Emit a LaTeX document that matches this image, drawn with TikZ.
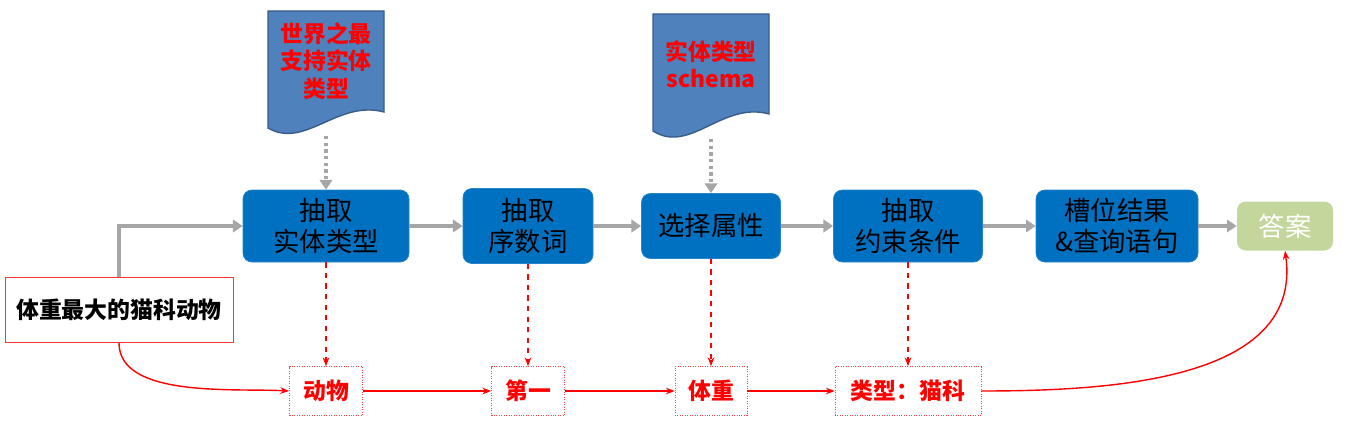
\documentclass[tikz,border=0pt]{standalone}
\usepackage{fontspec}
\setmainfont{Noto Sans CJK SC}
\usetikzlibrary{arrows.meta}

\definecolor{boxblue}{HTML}{0070C0}
\definecolor{docblue}{HTML}{4F81BD}
\definecolor{docedge}{HTML}{385D8A}
\definecolor{flowgray}{HTML}{A6A6A6}
\definecolor{ansgreen}{HTML}{C3D69B}

\tikzset{
  stepbox/.style={draw=boxblue!85!white, fill=boxblue, rounded corners=5pt, align=center,
    inner sep=0pt, font=\fontsize{15}{18}\selectfont},
  ansbox/.style={fill=ansgreen, rounded corners=5pt, text=white, minimum width=1.92cm,
    minimum height=0.98cm, font=\fontsize{15}{18}\selectfont},
  slotbox/.style={draw=red!75, densely dotted, text=red, minimum height=0.98cm,
    font=\bfseries\fontsize{13}{15}\selectfont},
  querybox/.style={draw=red!80, minimum width=4.56cm, minimum height=1.3cm,
    font=\bfseries\fontsize{13}{15}\selectfont},
  doctext/.style={text=red, align=center, font=\bfseries\fontsize{13}{15.5}\selectfont},
  docshape/.style={draw=docedge, fill=docblue, thick},
  flow/.style={draw=flowgray, line width=1.9pt, -{Triangle[length=5.5pt,width=7pt]}},
  hint/.style={draw=flowgray, line width=1.8pt, dotted, -{Triangle[length=5.5pt,width=7pt]}},
  pick/.style={red, thick, dashed, -{Stealth[length=5pt]}},
  pass/.style={red, thick, -{Stealth[length=5pt]}}
}

\begin{document}
\begin{tikzpicture}
		\useasboundingbox (0,0) rectangle (27.06,8.54);
		% knowledge sources
		\draw [docshape] (5.36,8.32) -- (7.68,8.32) -- (7.68,6.30) .. controls (6.75,6.55) and (6.1,5.55) .. (5.36,5.98) -- cycle;
		\node [doctext] (d1) at (6.52,7.32) {世界之最\\支持实体\\类型};
		\coordinate (d1b) at (6.52,5.82);
		\draw [docshape] (13.06,8.26) -- (15.38,8.26) -- (15.38,6.26) .. controls (14.45,6.52) and (13.8,5.45) .. (13.06,5.92) -- cycle;
		\node [doctext] (d2) at (14.22,7.26) {实体类型\\schema};
		\coordinate (d2b) at (14.22,5.76);
		% pipeline
		\node [stepbox, minimum width=3.32cm, minimum height=1.44cm] (b1) at (6.52,4.02) {抽取\\实体类型};
		\node [stepbox, minimum width=2.6cm, minimum height=1.5cm] (b2) at (10.56,4.02) {抽取\\序数词};
		\node [stepbox, minimum width=2.78cm, minimum height=1.3cm] (b3) at (14.22,4.02) {选择属性};
		\node [stepbox, minimum width=2.98cm, minimum height=1.44cm] (b4) at (18.16,4.02) {抽取\\约束条件};
		\node [stepbox, minimum width=3.24cm, minimum height=1.44cm] (b5) at (22.34,4.02) {槽位结果\\\&查询语句};
		\node [ansbox] (ans) at (25.70,4.02) {答案};
		\node [querybox] (q) at (2.38,2.34) {体重最大的猫科动物};
		% slot values
		\node [slotbox, minimum width=1.46cm] (s1) at (6.52,0.72) {动物};
		\node [slotbox, minimum width=1.46cm] (s2) at (10.56,0.72) {第一};
		\node [slotbox, minimum width=1.44cm] (s3) at (14.22,0.72) {体重};
		\node [slotbox, minimum width=2.92cm] (s4) at (18.16,0.72) {类型：猫科};
		% connectors
		\draw [flow] (q.north) |- (b1.west);
		\draw [flow] (b1) -- (b2);
		\draw [flow] (b2) -- (b3);
		\draw [flow] (b3) -- (b4);
		\draw [flow] (b4) -- (b5);
		\draw [flow] (b5) -- (ans);
		\draw [hint] (d1b) -- (b1);
		\draw [hint] (d2b) -- (b3);
		\draw [pick] (b1) -- (s1);
		\draw [pick] (b2) -- (s2);
		\draw [pick] (b3) -- (s3);
		\draw [pick] (b4) -- (s4);
		\draw [pass] (q.south) to [out=-90, in=177, looseness=0.8] (s1.west);
		\draw [pass] (s1) -- (s2);
		\draw [pass] (s2) -- (s3);
		\draw [pass] (s3) -- (s4);
		\draw [pass] (s4.east) to [out=0, in=-82] (ans.south);
	\end{tikzpicture}
\end{document}
